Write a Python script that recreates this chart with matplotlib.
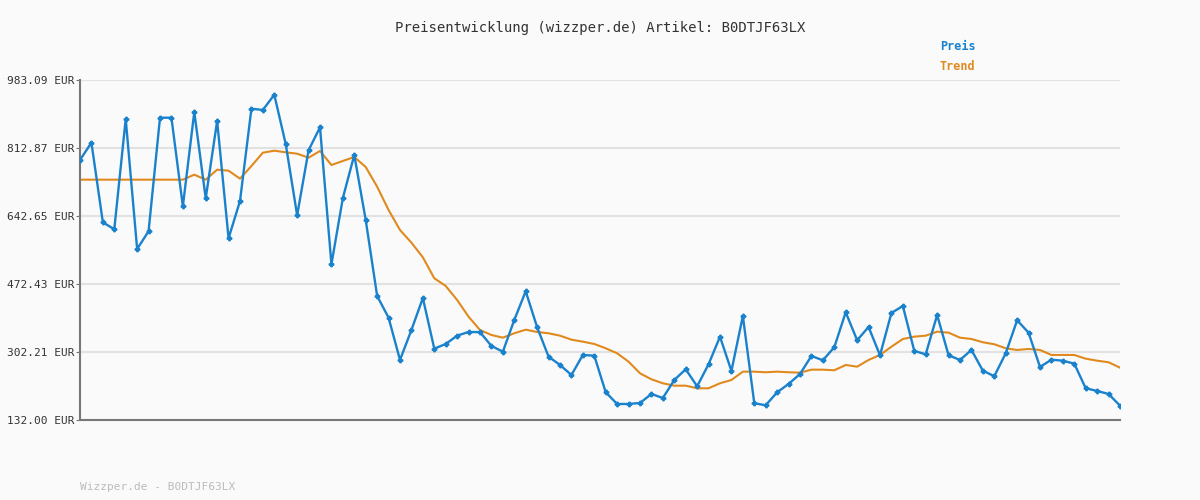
import matplotlib
matplotlib.use("Agg")
import matplotlib.pyplot as plt

price = [782.9, 826.2, 626.9, 609.4, 885.5, 560.1, 604.4, 888.7, 888.7, 667.0,
         903.0, 687.0, 880.5, 586.9, 680.2, 911.3, 908.0, 946.3, 822.9, 644.4,
         807.1, 864.7, 521.8, 687.7, 795.4, 632.7, 442.5, 388.1, 282.3, 357.3,
         437.4, 310.5, 322.3, 343.1, 352.3, 352.0, 317.3, 303.0, 382.4, 454.2,
         364.1, 290.5, 269.7, 244.7, 294.8, 293.0, 201.4, 172.1, 172.1, 174.6,
         197.1, 187.1, 232.2, 259.0, 216.4, 271.5, 340.6, 254.7, 392.4, 173.9,
         168.9, 201.4, 222.2, 247.2, 292.3, 281.5, 314.1, 401.6, 331.6, 364.9,
         294.0, 399.9, 417.4, 304.8, 296.5, 394.9, 294.0, 282.3, 307.3, 255.5,
         241.5, 299.0, 381.6, 350.6, 264.7, 283.0, 280.5, 273.0, 211.4, 204.7,
         197.1, 167.9]
trend = [733.6]*10 + [746.1, 733.6, 758.6, 756.1, 736.1, 767.8, 801.1, 806.1, 802.1, 798.6,
         788.6, 805.4, 770.3, 780.4, 790.4, 765.3, 716.0, 657.7, 607.6, 575.9,
         539.3, 486.8, 467.5, 432.4, 390.6, 357.3, 344.8, 338.1, 349.1, 358.1,
         352.3, 349.1, 343.1, 333.1, 328.1, 322.3, 311.5, 299.0, 278.0, 248.9,
         233.9, 223.9, 217.9, 217.9, 211.4, 211.4, 223.9, 232.2, 253.0, 253.0,
         251.5, 253.0, 251.5, 250.5, 258.0, 258.0, 256.5, 269.7, 265.5, 282.3,
         294.8, 315.5, 334.8, 340.6, 343.1, 353.1, 350.6, 338.1, 334.8, 326.6,
         321.6, 311.5, 307.3, 309.8, 307.3, 294.8, 294.8, 294.8, 285.5, 280.5,
         276.5, 263.0]
yticks = [132.00, 302.21, 472.43, 642.65, 812.87, 983.09]
ylabels = [f"{v:.2f} EUR" for v in yticks]
title = "Preisentwicklung (wizzper.de) Artikel: B0DTJF63LX"
footer = "Wizzper.de - B0DTJF63LX"

plt.rcParams['font.family'] = ['DejaVu Sans Mono']
fig = plt.figure(figsize=(12, 5), dpi=100, facecolor='#fafafa')
ax = fig.add_axes([80/1200, 0.16, 1040/1200, 0.68], facecolor='#fafafa')
x = list(range(len(price)))
ax.plot(x, trend, color='#e08a1e', lw=1.5, zorder=2)
ax.plot(x, price, color='#1a82cc', lw=1.7, marker='P', ms=3.2, zorder=3)
ax.set_xlim(0, len(price)-1)
ax.set_ylim(yticks[0], yticks[-1])
ax.set_yticks(yticks)
ax.set_yticklabels(ylabels, fontsize=8, color='#333333')
ax.set_xticks([])
ax.grid(axis='y', color='#e2e2e2', lw=1.5)
ax.set_axisbelow(True)
for s in ['top', 'right']:
    ax.spines[s].set_visible(False)
for s in ['left', 'bottom']:
    ax.spines[s].set_color('#777777')
    ax.spines[s].set_linewidth(1.5)
ax.tick_params(axis='y', length=3, color='#777777', pad=1)
fig.text(0.5, 1-28/500, title, ha='center', va='center', fontsize=10, color='#333333')
fig.text(940/1200, 1-47/500, "Preis", ha='left', va='center', fontsize=8.5, color='#1a82cc', fontweight='bold')
fig.text(940/1200, 1-67/500, "Trend", ha='left', va='center', fontsize=8.5, color='#e08a1e', fontweight='bold')
fig.text(80/1200, 1-487/500, footer, ha='left', va='center', fontsize=8, color='#bbbbbb')
fig.savefig("out.png", dpi=100, facecolor='#fafafa')
